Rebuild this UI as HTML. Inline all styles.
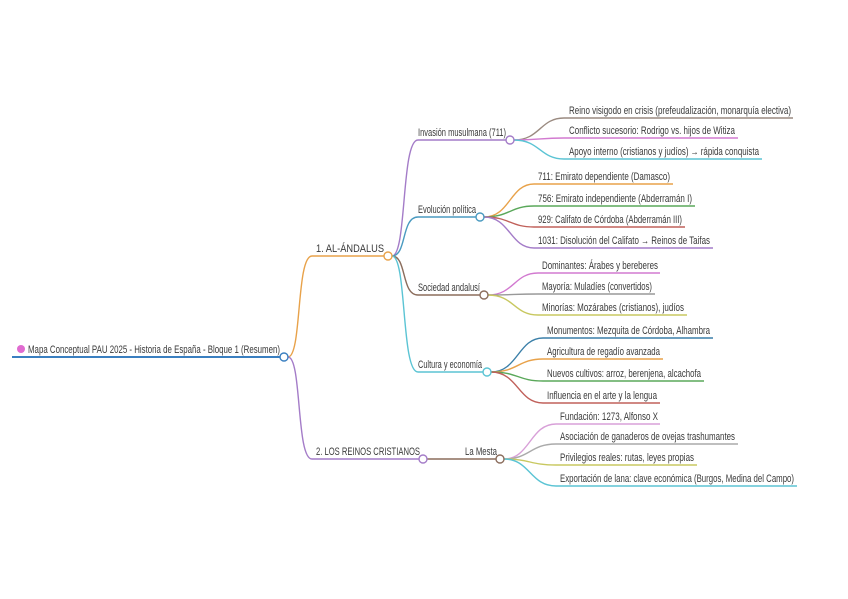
<!DOCTYPE html>
<html><head><meta charset="utf-8"><style>
html,body{margin:0;padding:0;background:#fff;}
svg{display:block;}
text{font-family:"Liberation Sans",sans-serif;font-size:11px;fill:#3a3a3a;}
</style></head><body>
<svg width="848" height="599" viewBox="0 0 848 599" xmlns="http://www.w3.org/2000/svg" fill="none" stroke-width="1.4">
<!-- root -->
<path d="M12 357 L280 357" stroke="#3a7fc0" stroke-width="2"/>
<circle cx="21" cy="349" r="4" fill="#e06bd0" stroke="none"/>
<text x="28" y="353" textLength="252" lengthAdjust="spacingAndGlyphs">Mapa Conceptual PAU 2025 - Historia de España - Bloque 1 (Resumen)</text>

<!-- level 1 -->
<path d="M288 357 C302 357 296 256 312 256 L384 256" stroke="#e8a24a"/>
<text x="316" y="252" textLength="68" lengthAdjust="spacingAndGlyphs">1. AL-ÁNDALUS</text>
<path d="M288 357 C302 357 296 459 312 459 L419 459" stroke="#a47cc8"/>
<text x="316" y="455" textLength="104" lengthAdjust="spacingAndGlyphs">2. LOS REINOS CRISTIANOS</text>
<path d="M427 459 L496 459" stroke="#8b6d5c"/>
<text x="465" y="455" textLength="32" lengthAdjust="spacingAndGlyphs">La Mesta</text>

<!-- level 2 -->
<path d="M392 256 C407 256 401 140 418 140 L506 140" stroke="#a47cc8"/>
<text x="418" y="136" textLength="88" lengthAdjust="spacingAndGlyphs">Invasión musulmana (711)</text>
<path d="M392 256 C407 256 401 217 418 217 L476 217" stroke="#4a9ac0"/>
<text x="418" y="213" textLength="58" lengthAdjust="spacingAndGlyphs">Evolución política</text>
<path d="M392 256 C407 256 401 295 418 295 L480 295" stroke="#8b6d5c"/>
<text x="418" y="291" textLength="62" lengthAdjust="spacingAndGlyphs">Sociedad andalusí</text>
<path d="M392 256 C407 256 401 372 418 372 L483 372" stroke="#5bc4d4"/>
<text x="418" y="368" textLength="64" lengthAdjust="spacingAndGlyphs">Cultura y economía</text>

<!-- Invasión leaves -->
<path d="M514 140 C540 140 540 118 564 118 L793 118" stroke="#9a8a80"/>
<text x="569" y="114" textLength="222" lengthAdjust="spacingAndGlyphs">Reino visigodo en crisis (prefeudalización, monarquía electiva)</text>
<path d="M514 140 C540 140 540 138 564 138 L738 138" stroke="#d27ad0"/>
<text x="569" y="134" textLength="166" lengthAdjust="spacingAndGlyphs">Conflicto sucesorio: Rodrigo vs. hijos de Witiza</text>
<path d="M514 140 C540 140 540 159 564 159 L762 159" stroke="#5bc4d4"/>
<text x="569" y="155" textLength="190" lengthAdjust="spacingAndGlyphs">Apoyo interno (cristianos y judíos) → rápida conquista</text>

<!-- Evolución leaves -->
<path d="M484 217 C510 217 510 184 534 184 L673 184" stroke="#e8a24a"/>
<text x="538" y="180" textLength="132" lengthAdjust="spacingAndGlyphs">711: Emirato dependiente (Damasco)</text>
<path d="M484 217 C510 217 510 206 534 206 L695 206" stroke="#5aa85a"/>
<text x="538" y="202" textLength="154" lengthAdjust="spacingAndGlyphs">756: Emirato independiente (Abderramán I)</text>
<path d="M484 217 C510 217 510 227 534 227 L685 227" stroke="#c0605a"/>
<text x="538" y="223" textLength="144" lengthAdjust="spacingAndGlyphs">929: Califato de Córdoba (Abderramán III)</text>
<path d="M484 217 C510 217 510 248 534 248 L713 248" stroke="#a47cc8"/>
<text x="538" y="244" textLength="172" lengthAdjust="spacingAndGlyphs">1031: Disolución del Califato → Reinos de Taifas</text>

<!-- Sociedad leaves -->
<path d="M488 295 C514 295 514 273 538 273 L660 273" stroke="#d27ad0"/>
<text x="542" y="269" textLength="116" lengthAdjust="spacingAndGlyphs">Dominantes: Árabes y bereberes</text>
<path d="M488 295 C514 295 514 294 538 294 L655 294" stroke="#999"/>
<text x="542" y="290" textLength="110" lengthAdjust="spacingAndGlyphs">Mayoría: Muladíes (convertidos)</text>
<path d="M488 295 C514 295 514 315 538 315 L687 315" stroke="#c8c860"/>
<text x="542" y="311" textLength="142" lengthAdjust="spacingAndGlyphs">Minorías: Mozárabes (cristianos), judíos</text>

<!-- Cultura leaves -->
<path d="M491 372 C518 372 518 338 543 338 L713 338" stroke="#3a7fa8"/>
<text x="547" y="334" textLength="163" lengthAdjust="spacingAndGlyphs">Monumentos: Mezquita de Córdoba, Alhambra</text>
<path d="M491 372 C518 372 518 359 543 359 L663 359" stroke="#e8a24a"/>
<text x="547" y="355" textLength="113" lengthAdjust="spacingAndGlyphs">Agricultura de regadío avanzada</text>
<path d="M491 372 C518 372 518 381 543 381 L704 381" stroke="#5aa85a"/>
<text x="547" y="377" textLength="154" lengthAdjust="spacingAndGlyphs">Nuevos cultivos: arroz, berenjena, alcachofa</text>
<path d="M491 372 C518 372 518 403 543 403 L660 403" stroke="#c0605a"/>
<text x="547" y="399" textLength="110" lengthAdjust="spacingAndGlyphs">Influencia en el arte y la lengua</text>

<!-- La Mesta leaves -->
<path d="M504 459 C530 459 530 424 556 424 L660 424" stroke="#d8a0d8"/>
<text x="560" y="420" textLength="98" lengthAdjust="spacingAndGlyphs">Fundación: 1273, Alfonso X</text>
<path d="M504 459 C530 459 530 444 556 444 L738 444" stroke="#aaa"/>
<text x="560" y="440" textLength="175" lengthAdjust="spacingAndGlyphs">Asociación de ganaderos de ovejas trashumantes</text>
<path d="M504 459 C530 459 530 465 556 465 L697 465" stroke="#c8c860"/>
<text x="560" y="461" textLength="134" lengthAdjust="spacingAndGlyphs">Privilegios reales: rutas, leyes propias</text>
<path d="M504 459 C530 459 530 486 556 486 L797 486" stroke="#5bc4d4"/>
<text x="560" y="482" textLength="234" lengthAdjust="spacingAndGlyphs">Exportación de lana: clave económica (Burgos, Medina del Campo)</text>

<!-- circles -->
<g fill="#fff" stroke-width="1.4">
<circle cx="284" cy="357" r="4" stroke="#3a7fc0"/>
<circle cx="388" cy="256" r="4" stroke="#e8a24a"/>
<circle cx="423" cy="459" r="4" stroke="#a47cc8"/>
<circle cx="500" cy="459" r="4" stroke="#8b6d5c"/>
<circle cx="510" cy="140" r="4" stroke="#a47cc8"/>
<circle cx="480" cy="217" r="4" stroke="#4a9ac0"/>
<circle cx="484" cy="295" r="4" stroke="#8b6d5c"/>
<circle cx="487" cy="372" r="4" stroke="#5bc4d4"/>
</g>
</svg>
</body></html>
